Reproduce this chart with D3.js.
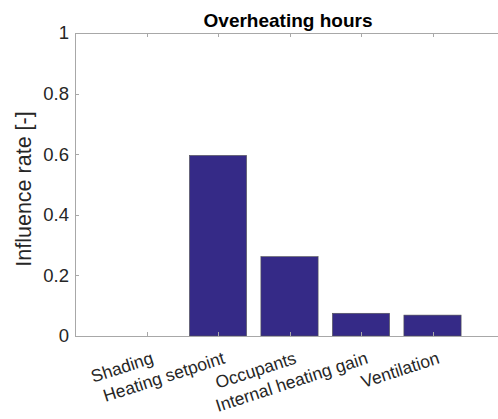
<!DOCTYPE html>
<html><head><meta charset="utf-8">
<script src="https://cdn.jsdelivr.net/npm/d3@7"></script>
<style>body{margin:0;background:#fff}svg{display:block}text{font-family:"Liberation Sans",Arial,sans-serif;fill:#262626}</style>
</head><body>
<svg id="c" width="498" height="419"></svg>
<script>
const categories = ["Shading","Heating setpoint","Occupants","Internal heating gain","Ventilation"];
const values = [0.0, 0.596, 0.262, 0.075, 0.069];
const yTicks = [0, 0.2, 0.4, 0.6, 0.8, 1];
const yTickLabels = ["0","0.2","0.4","0.6","0.8","1"];
const title = "Overheating hours";
const yLabel = "Influence rate [-]";

const svg = d3.select("#c");
const L = 75, R = 504, T = 33, B = 336;
const x = d3.scaleLinear().domain([0, categories.length + 1]).range([L, R]);
const y = d3.scaleLinear().domain([0, 1]).range([B, T]);
const bw = 0.8;
const axisColor = "#a8a8a8";

// bars
svg.append("g").selectAll("rect").data(values).join("rect")
  .attr("x", (d,i) => x(i + 1 - bw/2))
  .attr("width", (d,i) => x(i + 1 + bw/2) - x(i + 1 - bw/2))
  .attr("y", d => y(d))
  .attr("height", d => y(0) - y(d))
  .attr("fill", "#352a87")
  .attr("stroke", "#555")
  .attr("stroke-width", 0.6);

// box lines
const g = svg.append("g");
g.append("line").attr("x1", L).attr("x2", R).attr("y1", B+0.5).attr("y2", B+0.5).attr("stroke", axisColor);
g.append("line").attr("x1", L).attr("x2", R).attr("y1", T+0.5).attr("y2", T+0.5).attr("stroke", axisColor);
g.append("line").attr("x1", L+0.5).attr("x2", L+0.5).attr("y1", T).attr("y2", B+1).attr("stroke", axisColor);

// x ticks (inward, bottom and top)
categories.forEach((c,i) => {
  const px = Math.round(x(i+1)) + 0.5;
  g.append("line").attr("x1", px).attr("x2", px).attr("y1", B).attr("y2", B-4).attr("stroke", axisColor);
  g.append("line").attr("x1", px).attr("x2", px).attr("y1", T).attr("y2", T+4).attr("stroke", axisColor);
});
// y ticks (inward)
yTicks.forEach(t => {
  const py = Math.round(y(t)) + 0.5;
  g.append("line").attr("x1", L).attr("x2", L+4).attr("y1", py).attr("y2", py).attr("stroke", axisColor);
});

// y tick labels
svg.append("g").selectAll("text").data(yTicks).join("text")
  .attr("x", L - 6).attr("y", d => y(d)).attr("dy", "0.35em")
  .attr("text-anchor", "end").attr("font-size", 18.5)
  .text((d,i) => yTickLabels[i]);

// x tick labels rotated
svg.append("g").selectAll("text").data(categories).join("text")
  .attr("transform", (d,i) => `translate(${x(i+1)+4},${B+15}) rotate(-18)`)
  .attr("text-anchor", "end").attr("dy", "0.72em").attr("font-size", 17.5)
  .text(d => d);

// title
svg.append("text").attr("x", 288).attr("y", 26.5)
  .attr("text-anchor", "middle").attr("font-size", 19).attr("font-weight", "bold")
  .style("fill", "#000").text(title);

// y label
svg.append("text").attr("transform", `translate(30.5,189) rotate(-90)`)
  .attr("text-anchor", "middle").attr("font-size", 21.5).text(yLabel);
</script>
</body></html>
